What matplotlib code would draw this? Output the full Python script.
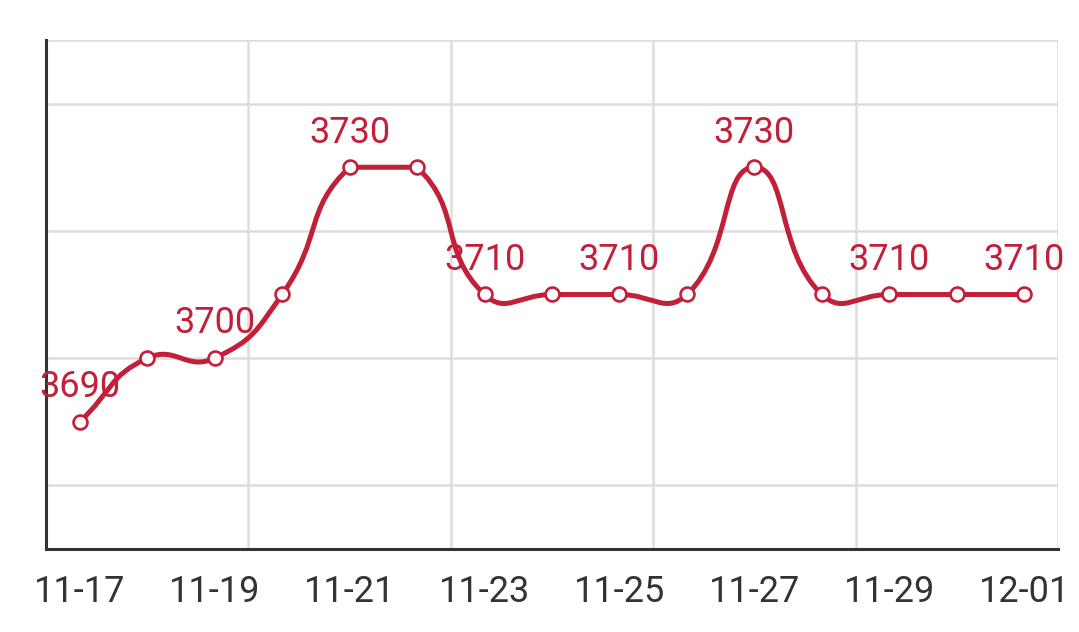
import numpy as np
import matplotlib
matplotlib.use("Agg")
import matplotlib.pyplot as plt
from matplotlib.path import Path
from matplotlib.patches import PathPatch

plt.rcParams['font.family'] = ['Roboto', 'DejaVu Sans']

dates = ['11-17', '11-18', '11-19', '11-20', '11-21', '11-22', '11-23', '11-24',
         '11-25', '11-26', '11-27', '11-28', '11-29', '11-30', '12-01']
prices = [3690, 3700, 3700, 3710, 3730, 3730, 3710, 3710,
          3710, 3710, 3730, 3710, 3710, 3710, 3710]

red = '#c21f39'


def smooth_path(ax, x, y, smooth=0.5):
    # bezier curve through the points, control points clamped to the data box
    pts = np.column_stack([x, y]).astype(float)
    pix = ax.transData.transform(pts)
    lo, hi = pix.min(axis=0), pix.max(axis=0)
    n = len(pix)
    cps = []
    for i in range(n):
        p = pix[i]
        prev = pix[i - 1] if i > 0 else p
        nxt = pix[i + 1] if i < n - 1 else p
        v = (nxt - prev) * smooth
        d0 = np.hypot(*(p - prev))
        d1 = np.hypot(*(p - nxt))
        s = d0 + d1
        if s:
            d0, d1 = d0 / s, d1 / s
        c0 = np.clip(p - v * d0, lo, hi)
        c1 = np.clip(p + v * d1, lo, hi)
        cps.append((c0, c1))
    verts = [pix[0]]
    codes = [Path.MOVETO]
    for i in range(n - 1):
        verts += [cps[i][1], cps[i + 1][0], pix[i + 1]]
        codes += [Path.CURVE4] * 3
    verts = ax.transData.inverted().transform(np.array(verts))
    return Path(verts, codes)


fig = plt.figure(figsize=(10.79, 6.32), dpi=100)
ax = fig.add_axes([46 / 1079, 83 / 632, 1012 / 1079, 509 / 632])

ax.set_xlim(-0.5, len(dates) - 0.5)
ax.set_ylim(3670, 3750)

xi = np.arange(len(dates))
patch = PathPatch(smooth_path(ax, xi, prices), fill=False, edgecolor=red,
                  lw=3.6, zorder=3, capstyle='round')
ax.add_patch(patch)
ax.plot(xi, prices, 'o', ms=10, mfc='white', mec=red, mew=1.9, zorder=4)

for i in range(0, len(dates), 2):
    ax.annotate(str(prices[i]), (xi[i], prices[i]), xytext=(0, 25),
                textcoords='offset points', ha='center', va='center',
                color=red, fontsize=26, zorder=5)

ax.set_xticks(xi[::2])
ax.set_xticklabels(dates[::2])
ax.set_xticks(np.arange(2.5, len(dates), 3), minor=True)
ax.set_yticks([3680, 3700, 3720, 3740, 3750])
ax.set_yticklabels([])
ax.tick_params(axis='both', which='both', length=0)
ax.tick_params(axis='x', labelsize=26, labelcolor='#333333', pad=18)
ax.grid(axis='y', color='#dddddd', lw=1.8)
ax.grid(axis='x', which='minor', color='#dddddd', lw=1.8)
ax.set_axisbelow(True)

for s in ['top', 'right']:
    ax.spines[s].set_visible(False)
for s in ['left', 'bottom']:
    ax.spines[s].set_color('#333333')
    ax.spines[s].set_linewidth(2.2)

fig.savefig('out.png', dpi=100)
